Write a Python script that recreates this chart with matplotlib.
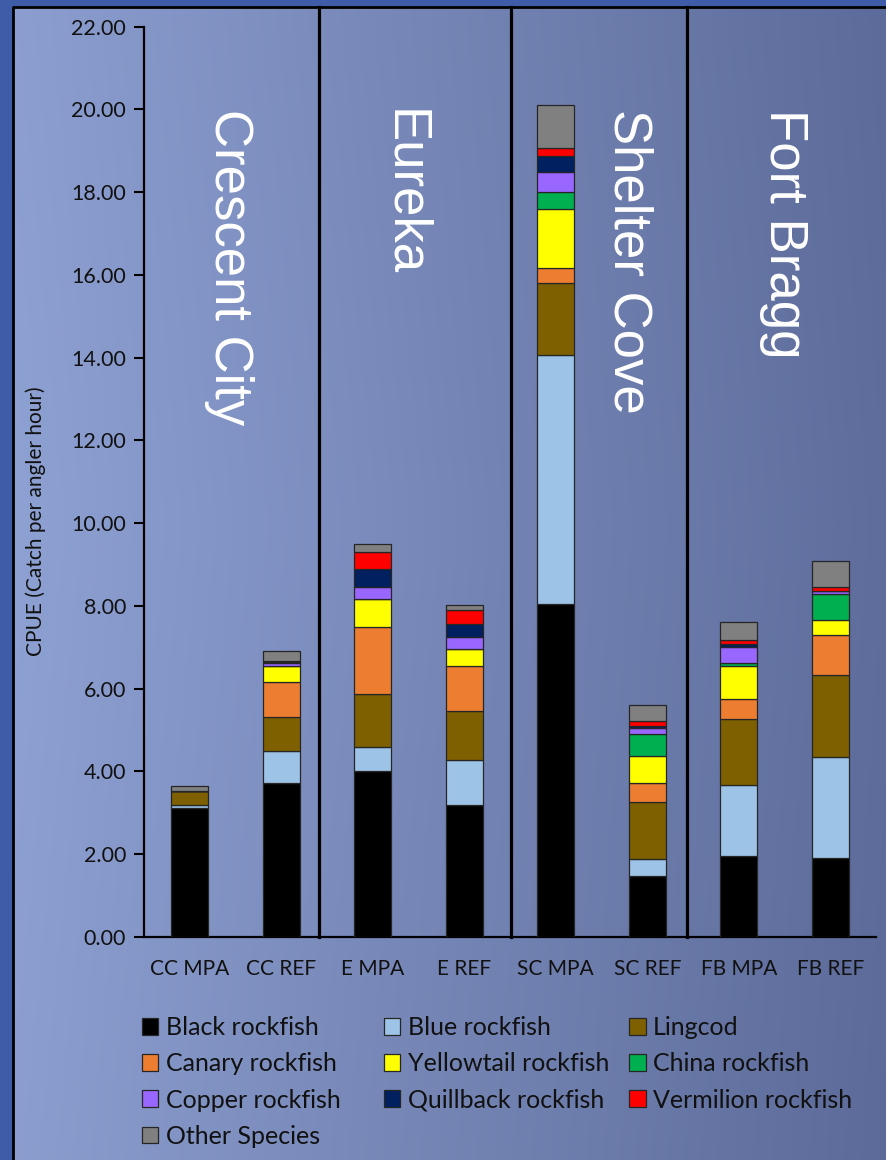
import numpy as np
import matplotlib
matplotlib.use('Agg')
import matplotlib.pyplot as plt
from matplotlib.colors import to_rgb

# ---- data (CPUE, catch per angler hour) ----
sites = ['CC MPA', 'CC REF', 'E MPA', 'E REF', 'SC MPA', 'SC REF', 'FB MPA', 'FB REF']

black_rf  = [3.11, 3.73, 4.01, 3.18, 8.04, 1.47, 1.95, 1.92]
blue_rf   = [0.09, 0.77, 0.58, 1.09, 6.02, 0.42, 1.73, 2.44]
lingcod   = [0.34, 0.82, 1.29, 1.19, 1.75, 1.37, 1.60, 1.97]
canary_rf = [0.00, 0.85, 1.62, 1.10, 0.36, 0.46, 0.46, 0.96]
yellow_rf = [0.00, 0.38, 0.66, 0.39, 1.43, 0.66, 0.82, 0.37]
china_rf  = [0.00, 0.00, 0.02, 0.00, 0.41, 0.53, 0.07, 0.62]
copper_rf = [0.00, 0.07, 0.27, 0.31, 0.48, 0.13, 0.37, 0.07]
quill_rf  = [0.00, 0.02, 0.44, 0.31, 0.39, 0.06, 0.07, 0.02]
verm_rf   = [0.00, 0.03, 0.42, 0.34, 0.19, 0.11, 0.10, 0.08]
other_sp  = [0.11, 0.23, 0.20, 0.11, 1.03, 0.39, 0.45, 0.63]

species = [
    ('Black rockfish',      black_rf,  '#000000'),
    ('Blue rockfish',       blue_rf,   '#9DC3E6'),
    ('Lingcod',             lingcod,   '#7F6000'),
    ('Canary rockfish',     canary_rf, '#ED7D31'),
    ('Yellowtail rockfish', yellow_rf, '#FFFF00'),
    ('China rockfish',      china_rf,  '#00B050'),
    ('Copper rockfish',     copper_rf, '#9966FF'),
    ('Quillback rockfish',  quill_rf,  '#002060'),
    ('Vermilion rockfish',  verm_rf,   '#FF0000'),
    ('Other Species',       other_sp,  '#808080'),
]

regions     = ['Crescent City', 'Eureka', 'Shelter Cove', 'Fort Bragg']
region_x    = [0.43, 2.34, 4.80, 6.49]     # label centres (data x)
separator_x = [1.41, 3.51, 5.43]

# legend laid out in rows like the original, one legend per column
legend_cols = [
    ['Black rockfish', 'Canary rockfish', 'Copper rockfish', 'Other Species'],
    ['Blue rockfish', 'Yellowtail rockfish', 'Quillback rockfish'],
    ['Lingcod', 'China rockfish', 'Vermilion rockfish'],
]
legend_col_px = [142, 384, 629]

W, H = 887, 1160
plt.rcParams['font.family'] = ['Lato', 'DejaVu Sans']

fig = plt.figure(figsize=(W / 100, H / 100), dpi=100)
fig.patch.set_facecolor('#3f5ca8')

# ---- slide-style gradient panel ----
bg = fig.add_axes([0, 0, 1, 1], zorder=0)
bg.set_xlim(0, W)
bg.set_ylim(H, 0)
bg.axis('off')
c_left, c_right = np.array(to_rgb('#8ea1d3')), np.array(to_rgb('#5e6d9c'))
gx = np.linspace(0, 1, 256)
gy = np.linspace(0, 1, 64)
grad = (c_left[None, None, :] * (1 - gx[None, :, None])
        + c_right[None, None, :] * gx[None, :, None])
grad = grad * (1.0 - 0.04 * np.abs(gy - 0.45)[:, None, None])
bg.imshow(grad, extent=[13, W, H, 7], aspect='auto', interpolation='bilinear')
bg.plot([13, 13, W], [H, 7, 7], color='black', lw=2)

# ---- main chart ----
ax = fig.add_axes([144 / W, (H - 937) / H, (876 - 144) / W, (937 - 26.7) / H], zorder=2)
ax.set_facecolor('none')

x = np.arange(len(sites))
bottom = np.zeros(len(sites))
handles = {}
for name, vals, col in species:
    vals = np.array(vals)
    b = ax.bar(x, vals, width=0.40, bottom=bottom, color=col,
               edgecolor='#262626', linewidth=0.9, label=name, zorder=3)
    handles[name] = b
    bottom += vals

ax.set_xlim(-0.5, 7.5)
ax.set_ylim(0, 22)
yt = np.arange(0, 22.1, 2)
ax.set_yticks(yt)
ax.set_yticklabels([f'{v:.2f}' for v in yt])
ax.set_xticks(x)
ax.set_xticklabels(sites)
ax.tick_params(axis='y', length=7, width=1.5, colors='black', labelsize=15.5,
               labelcolor='#111111', pad=6)
ax.tick_params(axis='x', length=0, labelsize=15, labelcolor='#111111', pad=16)
for s in ('top', 'right'):
    ax.spines[s].set_visible(False)
for s in ('left', 'bottom'):
    ax.spines[s].set_linewidth(1.6)
    ax.spines[s].set_color('black')

ax.set_ylabel('CPUE (Catch per angler hour)', fontsize=15, color='#111111')
ax.yaxis.set_label_coords(-0.134, 0.457)

for sx in separator_x:
    ax.axvline(sx, ymin=0, ymax=1.0217, color='black', lw=2.3, clip_on=False, zorder=4)

for name, rx in zip(regions, region_x):
    ax.text(rx, 20.0, name, rotation=-90, ha='center', va='top', color='white',
            fontsize=38, family=['Liberation Sans', 'DejaVu Sans'], zorder=5)

for names, px in zip(legend_cols, legend_col_px):
    leg = fig.legend([handles[n] for n in names], names, ncol=1, frameon=False,
                     loc='upper left', bbox_to_anchor=(px / W, 1 - 1016 / H),
                     fontsize=18, handlelength=0.66, handleheight=0.66,
                     handletextpad=0.3, labelspacing=0.53,
                     borderpad=0, borderaxespad=0)
    for t in leg.get_texts():
        t.set_color('#111111')

fig.savefig('out.png', dpi=100, facecolor=fig.get_facecolor())
